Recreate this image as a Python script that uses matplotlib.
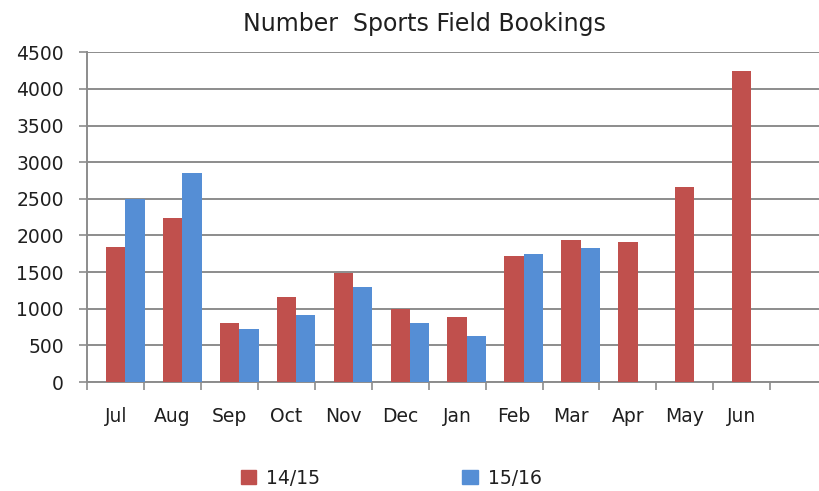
import numpy as np
import matplotlib.pyplot as plt
from matplotlib.patches import Patch

months = ['Jul', 'Aug', 'Sep', 'Oct', 'Nov', 'Dec',
          'Jan', 'Feb', 'Mar', 'Apr', 'May', 'Jun']
bookings_1415 = [1840, 2240, 810, 1160, 1490, 1000, 890, 1725, 1940, 1910, 2665, 4250]
bookings_1516 = [2500, 2850, 730, 920, 1300, 810, 625, 1750, 1835]
series_labels = ['14/15', '15/16']
yticks = np.arange(0, 4501, 500)

red = '#C0504D'
blue = '#558ED5'
grey = '#8C8C8C'
text_col = '#1f1f1f'

plt.rcParams['font.family'] = 'DejaVu Sans'

fig = plt.figure(figsize=(8.19, 4.91), dpi=100)
ax = fig.add_axes([87.3 / 819, 1 - 382 / 491, (819 - 87.3) / 819, (382 - 52.3) / 491])

width = 0.34
x1 = np.arange(len(bookings_1415))
x2 = np.arange(len(bookings_1516)) + width
ax.bar(x1, bookings_1415, width, color=red, zorder=3)
ax.bar(x2, bookings_1516, width, color=blue, zorder=3)

ax.set_xlim(-0.5, -0.5 + (819 - 87.3) / 56.9)
ax.set_ylim(0, 4500)
ax.set_yticks(yticks)
ax.set_xticks(np.arange(len(months)))
ax.set_xticklabels(months)
ax.set_xticks(np.arange(len(months) + 1) - 0.5, minor=True)

# gridlines and spines in Excel-like grey
ax.yaxis.grid(True, color=grey, linewidth=1.4, zorder=0)
for s in ['top', 'right']:
    ax.spines[s].set_visible(False)
for s in ['left', 'bottom']:
    ax.spines[s].set_color(grey)
    ax.spines[s].set_linewidth(1.4)

ax.tick_params(axis='y', length=6, width=1.2, color=grey, pad=11,
               labelsize=13.5, labelcolor=text_col)
ax.tick_params(axis='x', which='major', length=0, pad=18,
               labelsize=13.5, labelcolor=text_col)
ax.tick_params(axis='x', which='minor', length=6, width=1.2, color=grey)

fig.text(424 / 819, 1 - 24 / 491, 'Number  Sports Field Bookings',
         ha='center', va='center', fontsize=17, color=text_col)

handles = [Patch(color=red), Patch(color=blue)]
fig.legend(handles, series_labels, loc='center', bbox_to_anchor=(391 / 819, 1 - 478 / 491),
           ncol=2, frameon=False, fontsize=13.5, handlelength=0.85, handleheight=0.85,
           handletextpad=0.5, columnspacing=7.6, labelcolor=text_col)

fig.savefig('out.png', dpi=100)
